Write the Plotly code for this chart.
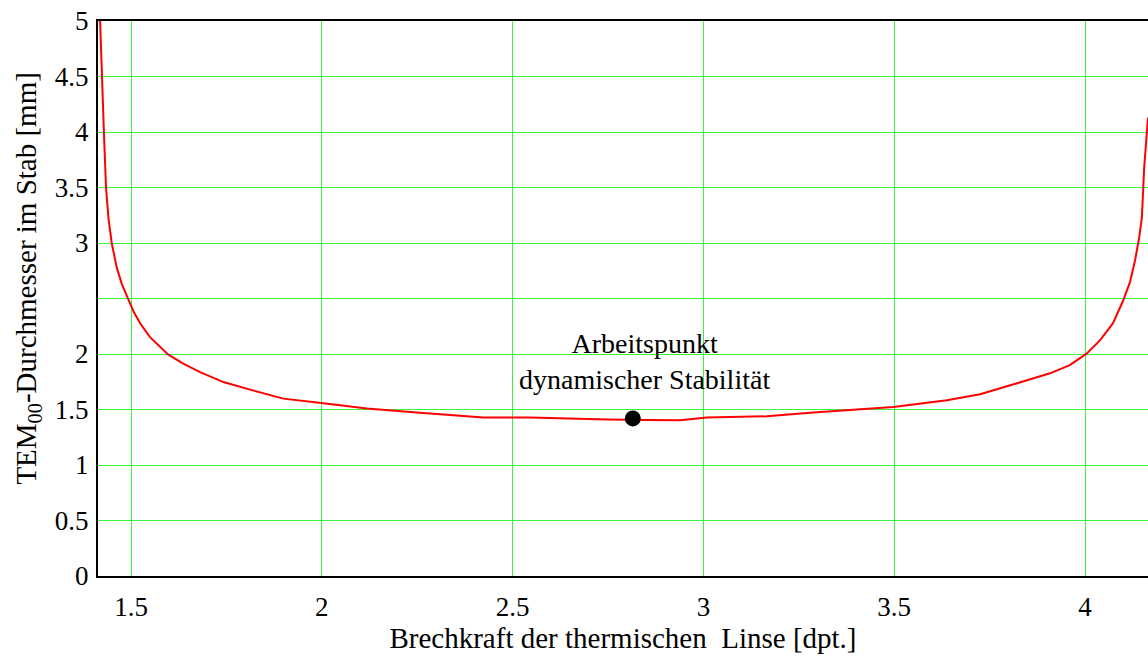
import plotly.graph_objects as go

# Curve: Brechkraft (dpt) vs TEM00 diameter (mm)
x_vals = [1.419, 1.4234, 1.429, 1.4345, 1.441, 1.4495, 1.4625, 1.476, 1.4913, 1.507, 1.525, 1.5498, 1.5978,
          1.637, 1.681, 1.742, 1.812, 1.899, 1.999, 2.118, 2.249, 2.423, 2.546,
          2.65, 2.75, 2.85, 2.939, 3.009, 3.166, 3.288, 3.428, 3.498, 3.638,
          3.725, 3.822, 3.908, 3.96, 4.004, 4.039, 4.073, 4.100, 4.118, 4.131, 4.142, 4.149, 4.155, 4.165]
y_vals = [5.0, 4.5, 4.0, 3.5, 3.22, 3.0, 2.78, 2.63, 2.5, 2.38, 2.27, 2.152, 1.994,
          1.913, 1.837, 1.747, 1.679, 1.598, 1.559, 1.508, 1.472, 1.427, 1.427,
          1.415, 1.41, 1.405, 1.403, 1.427, 1.439, 1.472, 1.502, 1.523, 1.583,
          1.637, 1.736, 1.826, 1.9, 2.003, 2.122, 2.275, 2.482, 2.65, 2.842, 3.05, 3.23, 3.68, 4.13]

point_x = [2.815]
point_y = [1.42]
point_label = "Arbeitspunkt<br>dynamischer Stabilität"

x_ticks = [1.5, 2, 2.5, 3, 3.5, 4]
x_ticktext = ["1.5", "2", "2.5", "3", "3.5", "4"]
y_ticks = [0, 0.5, 1, 1.5, 2, 3, 3.5, 4, 4.5, 5]
y_ticktext = ["0", "0.5", "1", "1.5", "2", "3", "3.5", "4", "4.5", "5"]
y_unlabeled_grid = [2.5]

x_title = "Brechkraft der thermischen\u00a0 Linse [dpt.]"
y_title = "TEM<sub>00</sub>-Durchmesser im Stab [mm]"

FONT = "Liberation Serif"
GRID = "#3af53a"

fig = go.Figure()
fig.add_trace(go.Scatter(x=x_vals, y=y_vals, mode="lines",
                         line=dict(color="#ff0000", width=2),
                         showlegend=False, hoverinfo="skip"))
fig.add_trace(go.Scatter(x=point_x, y=point_y, mode="markers",
                         marker=dict(color="black", size=16),
                         showlegend=False))

fig.add_annotation(x=2.845, y=1.93, text=point_label, showarrow=False,
                   xanchor="center", yanchor="middle",
                   font=dict(family=FONT, size=28, color="black"))

# y-axis title placed slightly above centre, as in the reference
fig.add_annotation(x=-0.067, y=0.537, xref="paper", yref="paper", text=y_title,
                   textangle=-90, showarrow=False, xanchor="center", yanchor="middle",
                   font=dict(family=FONT, size=29, color="black"))

fig.update_layout(
    width=1148, height=657,
    margin=dict(l=98, r=0, t=21, b=81),
    paper_bgcolor="white", plot_bgcolor="white",
    font=dict(family=FONT, size=27, color="black"),
    xaxis=dict(range=[1.4135, 4.165], tickvals=x_ticks, ticktext=x_ticktext,
               showgrid=True, gridcolor=GRID, gridwidth=1, zeroline=False,
               showline=True, linecolor="black", linewidth=2, mirror=True,
               ticks="", ticklabelstandoff=6,
               tickfont=dict(family=FONT, size=27, color="black"),
               title=dict(text=x_title,
                          font=dict(family=FONT, size=29, color="black"), standoff=2)),
    yaxis=dict(range=[0, 5], tickvals=y_ticks, ticktext=y_ticktext,
               showgrid=True, gridcolor=GRID, gridwidth=1, zeroline=False,
               showline=True, linecolor="black", linewidth=2,
               ticks="", ticklabelstandoff=2,
               tickfont=dict(family=FONT, size=27, color="black"),
               minor=dict(tickvals=y_unlabeled_grid, showgrid=True,
                          gridcolor=GRID, gridwidth=1, ticks="")),
)

fig.write_html("out.html")
